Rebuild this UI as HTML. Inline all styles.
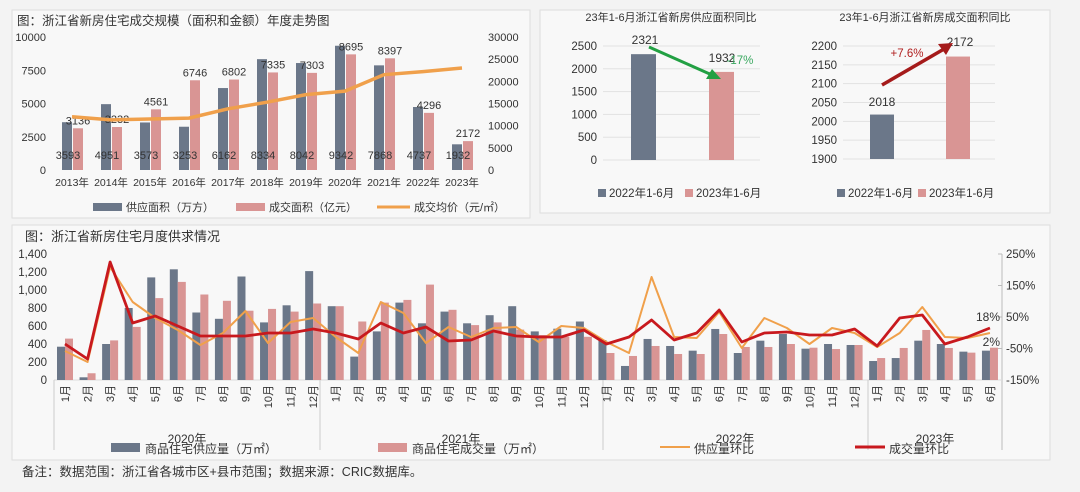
<!DOCTYPE html>
<html><head><meta charset="utf-8">
<style>
html,body{margin:0;padding:0;background:#f3f3f3;}
svg{display:block;font-family:"Liberation Sans","Noto Sans CJK SC",sans-serif;}
</style></head>
<body>
<svg id="s" width="1080" height="492" viewBox="0 0 1080 492" xmlns="http://www.w3.org/2000/svg">
<rect x="12" y="10" width="518" height="208" fill="#f8f8f8" stroke="#dddddd"/>
<rect x="540" y="10" width="510" height="203" fill="#f8f8f8" stroke="#dddddd"/>
<rect x="12" y="225" width="1038" height="235" fill="#f8f8f8" stroke="#dddddd"/>
<text x="17" y="25" font-size="12.5" fill="#333">图：浙江省新房住宅成交规模（面积和金额）年度走势图</text>
<text x="25" y="241" font-size="13" fill="#333">图：浙江省新房住宅月度供求情况</text>
<text x="22" y="476" font-size="12.5" fill="#333">备注：数据范围：浙江省各城市区+县市范围；数据来源：CRIC数据库。</text>
<g id="g"></g>
</svg>
<script>
const NS="http://www.w3.org/2000/svg",G=document.getElementById('g');
function el(t,a,txt){const e=document.createElementNS(NS,t);for(const k in a)e.setAttribute(k,a[k]);if(txt!=null)e.textContent=txt;G.appendChild(e);return e;}
function tx(x,y,s,o){o=o||{};return el('text',Object.assign({x:x,y:y,'font-size':o.fs||11,fill:o.fill||'#333','text-anchor':o.a||'middle'},o.extra||{}),s);}
const GR='#6b7789',PK='#d99594',OR='#f0a04b',RD='#c8191e';
const yb=170,sc=133/10000;
[0,2500,5000,7500,10000].forEach(v=>{tx(46,yb-v*sc+4,v,{a:'end'});});
[0,5000,10000,15000,20000,25000,30000].forEach(v=>{tx(488,yb-v*133/30000+4,v,{a:'start'});});
const sup=[3593,4951,3573,3253,6162,8334,8042,9342,7868,4737,1932],deal=[3136,3232,4561,6746,6802,7335,7303,8695,8397,4296,2172],
price=[12000,11300,11500,11700,13800,15300,17000,17800,21500,22200,23000];
let pts=[];
for(let i=0;i<11;i++){const c=72+i*39;
 el('rect',{x:c-10,y:yb-sup[i]*sc,width:10,height:sup[i]*sc,fill:GR});
 el('rect',{x:c+1,y:yb-deal[i]*sc,width:10,height:deal[i]*sc,fill:PK});
 tx(c+6,yb-deal[i]*sc-4,deal[i],{fs:11});
 tx(c-4,159,sup[i],{fs:11});
 tx(c,186,(2013+i)+'年',{fs:10.5});
 pts.push([c,yb-price[i]*133/30000]);}
el('polyline',{points:pts.join(' '),fill:'none',stroke:OR,'stroke-width':3.5,'stroke-linejoin':'round'});
el('rect',{x:93,y:203,width:29,height:8,fill:GR});tx(126,211,'供应面积（万方）',{a:'start'});
el('rect',{x:236,y:203,width:29,height:8,fill:PK});tx(269,211,'成交面积（亿元）',{a:'start'});
el('line',{x1:377,y1:207,x2:410,y2:207,stroke:OR,'stroke-width':3});tx(414,211,'成交均价（元/㎡）',{a:'start'});
tx(671,21,'23年1-6月浙江省新房供应面积同比',{fs:11});
for(let v=0;v<=2500;v+=500){const y=160-v*114/2500;el('line',{x1:603,y1:y,x2:760,y2:y,stroke:'#e2e2e2'});tx(597,y+4,v,{a:'end',fs:11.5});}
el('rect',{x:631,y:160-2321*114/2500,width:25,height:2321*114/2500,fill:GR});
el('rect',{x:709,y:160-1932*114/2500,width:25,height:1932*114/2500,fill:PK});
tx(645,44,'2321',{fs:12});tx(722,62,'1932',{fs:12});
el('line',{x1:649,y1:47,x2:712,y2:75,stroke:'#22a043','stroke-width':3});
el('polygon',{points:'721,79 706,79 712,69',fill:'#22a043'});
tx(740,64,'-17%',{fs:11.5,fill:'#3aa860'});
el('rect',{x:598,y:189,width:8,height:8,fill:GR});tx(609,197,'2022年1-6月',{a:'start',fs:11.5});
el('rect',{x:685,y:189,width:8,height:8,fill:PK});tx(696,197,'2023年1-6月',{a:'start',fs:11.5});
tx(925,21,'23年1-6月浙江省新房成交面积同比',{fs:11});
for(let v=1900;v<=2200;v+=50){const y=159-(v-1900)*113/300;el('line',{x1:843,y1:y,x2:995,y2:y,stroke:'#e2e2e2'});tx(837,y+4,v,{a:'end',fs:11.5});}
el('rect',{x:870,y:159-118*113/300,width:24,height:118*113/300,fill:GR});
el('rect',{x:946,y:159-272*113/300,width:24,height:272*113/300,fill:PK});
tx(882,106,'2018',{fs:12});tx(960,46,'2172',{fs:12});
el('line',{x1:882,y1:85,x2:944,y2:49,stroke:'#a51b1b','stroke-width':3.5});
el('polygon',{points:'953,43 938,44 946,55',fill:'#a51b1b'});
tx(907,57,'+7.6%',{fs:11.5,fill:'#b02020'});
el('rect',{x:837,y:189,width:8,height:8,fill:GR});tx(848,197,'2022年1-6月',{a:'start',fs:11.5});
el('rect',{x:918,y:189,width:8,height:8,fill:PK});tx(929,197,'2023年1-6月',{a:'start',fs:11.5});
const b0=380,bs=0.09;
[0,200,400,600,800,1000,1200,1400].forEach(v=>tx(47,b0-v*bs+4,v.toLocaleString('en-US'),{a:'end',fs:11.5}));
['250%','150%','50%','-50%','-150%'].forEach((s,i)=>tx(1006,254+i*31.5+4,s,{a:'start',fs:11.5}));
el('line',{x1:1002,y1:254,x2:1002,y2:450,stroke:'#bbb'});
[254,285.5,317,348.5,380].forEach(y=>el('line',{x1:998,y1:y,x2:1002,y2:y,stroke:'#bbb'}));
el('line',{x1:54,y1:380,x2:1002,y2:380,stroke:'#ddd'});
[54,320,603,868].forEach(x=>el('line',{x1:x,y1:380,x2:x,y2:450,stroke:'#ccc'}));
const gs=[370,30,400,800,1140,1230,750,680,1150,640,830,1210, 820,260,540,860,630,760,630,720,820,540,570,650, 444,156,456,378,326,567,300,437,511,348,400,389, 211,244,437,400,315,326];
const ps=[460,75,440,590,910,1090,950,880,770,790,760,850, 820,650,860,890,1060,780,610,640,560,500,480,480, 300,267,378,289,289,511,367,367,400,359,344,389, 244,356,556,356,304,359];
const red=[344,359,262,323,316,326,336,336,336,333,333,329, 333,339,323,333,327,341,340,331,336,337,337,330, 344,337,320,340,333,310,342,333,332,335,335,329, 346,318,315,344,337,328];
const ora=[351,362,267,302,318,330,345,333,311,343,322,318, 337,353,302,313,343,327,337,328,327,342,326,328, 342,353,277,337,338,312,348,318,328,344,328,333, 347,333,307,337,338,333];
let rp=[],op=[];
for(let i=0;i<42;i++){const c=65+i*22.56;
 el('rect',{x:c-8,y:b0-gs[i]*bs,width:8,height:gs[i]*bs,fill:GR});
 el('rect',{x:c,y:b0-ps[i]*bs,width:8,height:ps[i]*bs,fill:PK});
 const m=(i<36?i%12:i-36)+1;
 tx(0,0,m+'月',{fs:11,a:'end',extra:{transform:`translate(${c+4},385) rotate(-90)`}});
 rp.push([c,red[i]]);op.push([c,ora[i]]);}
el('polyline',{points:op.join(' '),fill:'none',stroke:OR,'stroke-width':2,'stroke-linejoin':'round'});
el('polyline',{points:rp.join(' '),fill:'none',stroke:RD,'stroke-width':2.8,'stroke-linejoin':'round'});
tx(1000,321,'18%',{a:'end',fs:12});tx(1000,346,'2%',{a:'end',fs:12});
[[187,'2020年'],[461,'2021年'],[735,'2022年'],[935,'2023年']].forEach(p=>tx(p[0],443,p[1],{fs:12}));
el('rect',{x:111,y:443,width:29,height:9,fill:GR});tx(145,453,'商品住宅供应量（万㎡）',{a:'start',fs:12});
el('rect',{x:378,y:443,width:29,height:9,fill:PK});tx(412,453,'商品住宅成交量（万㎡）',{a:'start',fs:12});
el('line',{x1:660,y1:447,x2:690,y2:447,stroke:OR,'stroke-width':2});tx(694,453,'供应量环比',{a:'start',fs:12});
el('line',{x1:855,y1:447,x2:885,y2:447,stroke:RD,'stroke-width':3});tx(889,453,'成交量环比',{a:'start',fs:12});
</script>
</body></html>
